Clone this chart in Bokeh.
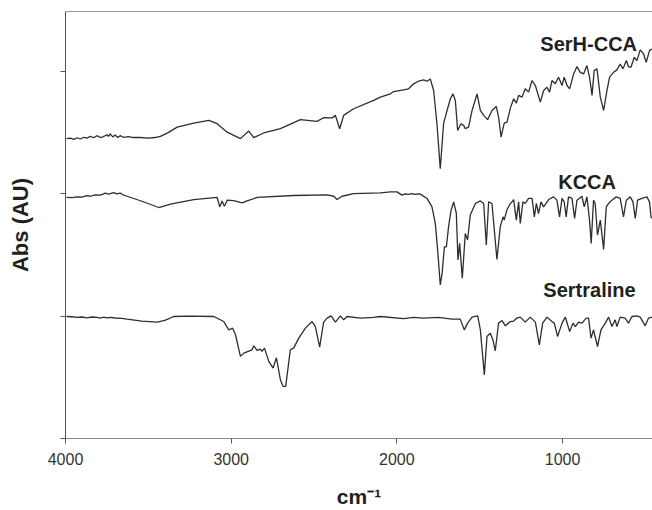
from bokeh.plotting import figure
from bokeh.models import Range1d, FixedTicker, LinearAxis, Label
from bokeh.embed import file_html
from bokeh.resources import INLINE

# ---------------- data ----------------
series_names = ["SerH-CCA", "KCCA", "Sertraline"]
x_ticks = [4000, 3000, 2000, 1000]
y_ticks = [0, 1, 2, 3]

serh_wn = [3994, 3970, 3950, 3930, 3910, 3890, 3870, 3850, 3830, 3810,
           3790, 3770, 3750, 3740, 3730, 3715, 3700, 3685, 3670, 3650,
           3620, 3590, 3560, 3530, 3500, 3460, 3427, 3380, 3326, 3226,
           3135, 3085, 3024, 2944, 2894, 2864, 2804, 2703, 2582, 2482,
           2442, 2391, 2371, 2345, 2321, 2261, 2140, 2100, 2039, 2019,
           1959, 1929, 1899, 1869, 1838, 1818, 1798, 1778, 1758, 1738,
           1718, 1697, 1677, 1661, 1647, 1633, 1613, 1597, 1587, 1567,
           1546, 1516, 1496, 1476, 1452, 1426, 1400, 1386, 1371, 1352,
           1335, 1315, 1295, 1279, 1265, 1245, 1225, 1205, 1184, 1164,
           1134, 1114, 1094, 1078, 1064, 1044, 1024, 1003, 990, 973,
           957, 933, 913, 893, 873, 853, 837, 822, 809, 792,
           772, 752, 732, 716, 692, 672, 652, 635, 615, 602,
           587, 567, 551, 531, 511, 495, 475, 460]
serh_abs = [2.451, 2.455, 2.445, 2.458, 2.448, 2.462, 2.455, 2.470, 2.458, 2.475,
            2.460, 2.468, 2.482, 2.470, 2.490, 2.465, 2.480, 2.460, 2.475, 2.462,
            2.468, 2.460, 2.462, 2.458, 2.455, 2.460, 2.469, 2.500, 2.545, 2.578,
            2.600, 2.573, 2.504, 2.451, 2.513, 2.459, 2.497, 2.532, 2.606, 2.592,
            2.622, 2.620, 2.641, 2.532, 2.641, 2.695, 2.763, 2.790, 2.817, 2.836,
            2.850, 2.858, 2.899, 2.920, 2.931, 2.920, 2.939, 2.844, 2.573, 2.206,
            2.573, 2.681, 2.777, 2.817, 2.763, 2.518, 2.573, 2.559, 2.532, 2.545,
            2.681, 2.817, 2.681, 2.641, 2.606, 2.681, 2.714, 2.627, 2.464, 2.578,
            2.586, 2.700, 2.777, 2.741, 2.804, 2.790, 2.858, 2.831, 2.926, 2.885,
            2.749, 2.844, 2.871, 2.831, 2.926, 2.899, 2.953, 2.885, 2.953, 2.885,
            2.858, 2.980, 3.040, 2.993, 2.980, 3.048, 2.953, 2.804, 3.007, 3.021,
            2.790, 2.681, 2.844, 2.953, 2.993, 3.013, 3.061, 3.021, 3.089, 3.040,
            3.034, 3.116, 3.089, 3.176, 3.143, 3.075, 3.170, 3.184]

kcca_wn = [3994, 3960, 3930, 3900, 3870, 3849, 3820, 3789, 3760, 3740,
           3709, 3690, 3670, 3650, 3628, 3530, 3437, 3367, 3226, 3085,
           3069, 3055, 3041, 3024, 2985, 2934, 2904, 2843, 2623, 2421,
           2381, 2361, 2331, 2261, 2100, 2039, 1999, 1969, 1949, 1930,
           1910, 1894, 1870, 1858, 1818, 1788, 1768, 1752, 1738, 1727,
           1713, 1701, 1688, 1673, 1657, 1641, 1631, 1621, 1605, 1587,
           1573, 1557, 1526, 1496, 1476, 1460, 1446, 1426, 1396, 1376,
           1359, 1352, 1335, 1315, 1305, 1295, 1279, 1265, 1255, 1239,
           1225, 1205, 1184, 1170, 1158, 1145, 1130, 1114, 1084, 1054,
           1034, 1018, 1003, 990, 978, 964, 943, 927, 913, 883,
           869, 853, 837, 827, 813, 803, 789, 772, 752, 736,
           722, 702, 676, 652, 632, 615, 591, 575, 561, 547,
           521, 491, 475, 466, 459]
kcca_abs = [1.970, 1.968, 1.975, 1.972, 1.985, 1.980, 1.992, 1.990, 2.005, 1.998,
            2.010, 2.000, 2.005, 1.990, 1.980, 1.935, 1.888, 1.915, 1.953, 1.970,
            1.893, 1.942, 1.899, 1.948, 1.945, 1.926, 1.942, 1.970, 1.986, 1.991,
            1.980, 1.953, 1.980, 2.002, 2.008, 2.016, 2.016, 1.989, 2.000, 1.995,
            2.002, 1.995, 2.000, 1.997, 1.962, 1.893, 1.758, 1.513, 1.255, 1.350,
            1.567, 1.567, 1.730, 1.866, 1.934, 1.839, 1.459, 1.595, 1.310, 1.676,
            1.622, 1.826, 1.921, 1.942, 1.921, 1.581, 1.934, 1.921, 1.464, 1.730,
            1.812, 1.785, 1.872, 1.921, 1.934, 1.953, 1.785, 1.934, 1.758, 1.934,
            1.921, 1.962, 1.962, 1.812, 1.921, 1.839, 1.934, 1.893, 1.953, 1.975,
            1.948, 1.812, 1.962, 1.934, 1.812, 1.975, 1.962, 1.799, 1.948, 1.980,
            1.893, 1.975, 1.785, 1.595, 1.948, 1.921, 1.663, 1.785, 1.546, 1.893,
            1.921, 1.948, 1.975, 1.962, 1.812, 1.948, 1.975, 1.934, 1.799, 1.948,
            1.962, 1.975, 1.934, 1.812, 1.800]

sert_wn = [3994, 3960, 3930, 3900, 3870, 3840, 3810, 3790, 3769, 3750,
           3730, 3700, 3660, 3628, 3540, 3447, 3400, 3347, 3250, 3105,
           3045, 3015, 2991, 2974, 2944, 2924, 2874, 2864, 2844, 2824,
           2814, 2799, 2773, 2747, 2727, 2703, 2687, 2671, 2643, 2623,
           2592, 2552, 2512, 2492, 2466, 2442, 2421, 2397, 2371, 2341,
           2321, 2301, 2220, 2140, 2100, 1959, 1900, 1838, 1750, 1667,
           1617, 1593, 1573, 1546, 1512, 1496, 1472, 1456, 1436, 1420,
           1406, 1386, 1365, 1345, 1315, 1295, 1275, 1255, 1225, 1195,
           1164, 1140, 1120, 1094, 1064, 1050, 1030, 1003, 983, 957,
           937, 923, 903, 883, 857, 843, 828, 813, 789, 768,
           742, 722, 702, 682, 672, 652, 622, 602, 581, 551,
           531, 501, 481, 459]
sert_abs = [0.997, 0.995, 0.990, 0.993, 0.985, 0.993, 0.990, 0.984, 0.992, 0.985,
            0.990, 0.985, 0.982, 0.975, 0.960, 0.951, 0.965, 0.997, 1.000, 0.997,
            0.956, 0.888, 0.902, 0.848, 0.671, 0.698, 0.725, 0.758, 0.720, 0.731,
            0.712, 0.739, 0.630, 0.576, 0.660, 0.481, 0.426, 0.426, 0.725, 0.739,
            0.820, 0.902, 0.956, 0.915, 0.747, 0.951, 0.984, 1.002, 0.951, 1.002,
            0.970, 0.997, 0.984, 0.990, 0.997, 0.980, 0.990, 0.984, 0.990, 0.975,
            0.975, 0.888, 0.943, 0.992, 1.002, 0.888, 0.520, 0.834, 0.861, 0.807,
            0.717, 0.943, 0.964, 0.921, 0.956, 0.960, 0.984, 0.992, 0.951, 0.992,
            0.951, 0.766, 0.943, 0.992, 0.956, 0.943, 0.834, 0.943, 0.992, 0.875,
            0.943, 0.915, 0.951, 0.943, 0.984, 0.984, 0.820, 0.888, 0.752, 0.888,
            0.943, 0.992, 0.915, 0.970, 0.915, 0.992, 0.984, 0.943, 0.997, 1.002,
            0.992, 0.921, 0.984, 0.992]

# ---------------- figure ----------------
FONT = "Liberation Sans"
INK = "#231f20"

p = figure(width=652, height=510, output_backend="svg", toolbar_location=None,
           x_range=Range1d(4000, 457), y_range=Range1d(0, 3.49),
           min_border_left=65, min_border_right=0, min_border_top=11,
           min_border_bottom=71)
p.grid.visible = False
p.outline_line_color = None
p.background_fill_color = "white"
p.border_fill_color = "white"

for xs, ys in [(serh_wn, serh_abs), (kcca_wn, kcca_abs), (sert_wn, sert_abs)]:
    p.line(xs, ys, line_color="#2e2e2e", line_width=1.3)

# bottom axis
xa = p.xaxis[0]
xa.ticker = FixedTicker(ticks=x_ticks)
xa.major_tick_out = 5
xa.major_tick_in = 0
xa.minor_tick_line_color = None
xa.axis_line_color = "#8a8a8a"
xa.major_tick_line_color = "#555555"
xa.major_label_text_font = FONT
xa.major_label_text_font_size = "16px"
xa.major_label_text_color = "#333333"
xa.major_label_standoff = 9
xa.axis_label = "cm\u207b\u00b9"
xa.axis_label_text_font = FONT
xa.axis_label_text_font_style = "bold"
xa.axis_label_text_font_size = "21px"
xa.axis_label_text_color = INK
xa.axis_label_standoff = 17

# left axis
ya = p.yaxis[0]
ya.ticker = FixedTicker(ticks=y_ticks)
ya.major_label_overrides = {t: "" for t in y_ticks}
ya.major_tick_out = 5
ya.major_tick_in = 0
ya.minor_tick_line_color = None
ya.axis_line_color = "#555555"
ya.major_tick_line_color = "#555555"
ya.major_label_standoff = 0
ya.axis_label = "Abs (AU)"
ya.axis_label_text_font = FONT
ya.axis_label_text_font_style = "bold"
ya.axis_label_text_font_size = "22px"
ya.axis_label_text_color = INK
ya.axis_label_standoff = 28

# top border line
top = LinearAxis(ticker=FixedTicker(ticks=[]), axis_line_color="#9a9a9a",
                 major_tick_line_color=None, minor_tick_line_color=None,
                 major_label_standoff=0)
p.add_layout(top, "above")

# series labels
label_pos = {"SerH-CCA": (1134, 3.227), "KCCA": (1026, 2.095), "Sertraline": (1116, 1.214)}
for name in series_names:
    x, y = label_pos[name]
    p.add_layout(Label(x=x, y=y, text=name, text_font=FONT, text_font_style="bold",
                       text_font_size="20px", text_color=INK,
                       text_align="left", text_baseline="alphabetic"))

open("out.html", "w").write(file_html(p, INLINE))
